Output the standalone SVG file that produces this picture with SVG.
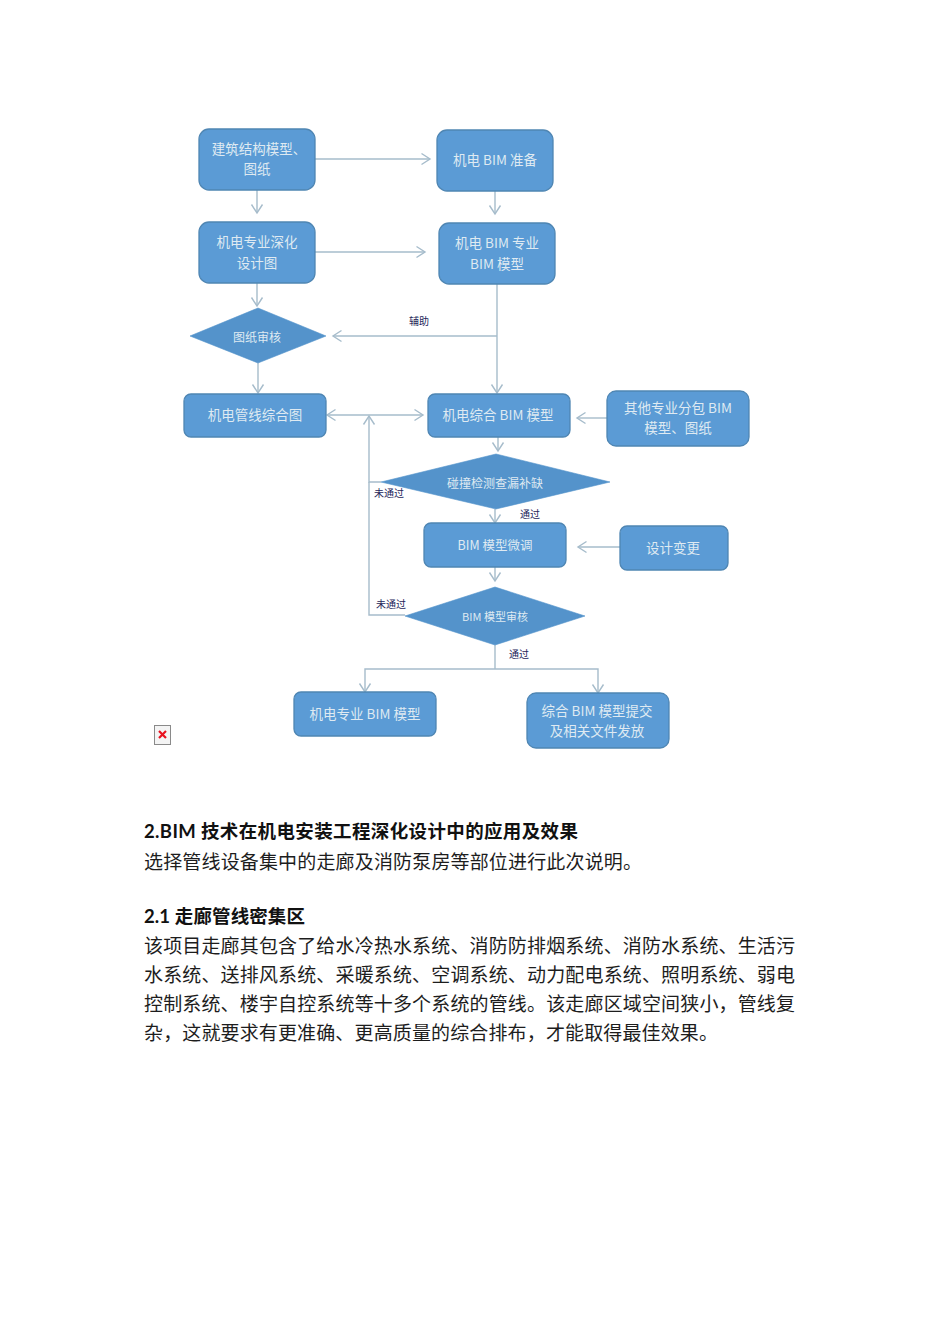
<svg xmlns="http://www.w3.org/2000/svg" width="950" height="1344" viewBox="0 0 950 1344">
<style>
.n{fill:#5b9bd5;stroke:#4f86b3;stroke-width:1.300}
.d{fill:#5493cb;stroke:#5493cb;stroke-width:.6;stroke-linejoin:round}
.t{font-family:"Noto Sans CJK SC","Noto Sans",sans-serif;fill:#dfeaf2;text-anchor:middle;font-size:13.500px}
.s{font-size:12px}
.l{font-family:"Noto Sans CJK SC",sans-serif;fill:#25255a;text-anchor:middle;font-size:10px}
.c path{fill:none;stroke:#a6bccb;stroke-width:1.400}
.b{font-family:"Noto Sans CJK SC",sans-serif;fill:#1d1d1d;font-size:19px}
.h{font-family:Lato,"Noto Sans CJK SC",sans-serif;font-weight:700;fill:#111;font-size:18.500px}
</style>
<defs>
<marker id="a" markerUnits="userSpaceOnUse" markerWidth="14" markerHeight="14" refX="10" refY="7" orient="auto-start-reverse"><path d="M1.500 1.500L10 7L1.500 12.500" fill="none" stroke="#a6bccb" stroke-width="1.400"/></marker>
</defs>
<rect width="950" height="1344" fill="#fff"/>
<g class="c" id="connectors">
<path d="M315 159H430" marker-end="url(#a)"/>
<path d="M257 190V213" marker-end="url(#a)"/>
<path d="M495 191V214" marker-end="url(#a)"/>
<path d="M315 252H425" marker-end="url(#a)"/>
<path d="M257 283V306" marker-end="url(#a)"/>
<path d="M497 284V393" marker-end="url(#a)"/>
<path d="M497 336H333" marker-end="url(#a)"/>
<path d="M258 363V393" marker-end="url(#a)"/>
<path d="M327 415H423" marker-start="url(#a)" marker-end="url(#a)"/>
<path d="M381 482H369V416" marker-end="url(#a)"/>
<path d="M405 615H369V482"/>
<path d="M498 437V451" marker-end="url(#a)"/>
<path d="M607 418H577" marker-end="url(#a)"/>
<path d="M495 509V523" marker-end="url(#a)"/>
<path d="M620 547H578" marker-end="url(#a)"/>
<path d="M495 567V581" marker-end="url(#a)"/>
<path d="M495 645V669"/>
<path d="M495 669H365V692" marker-end="url(#a)"/>
<path d="M495 669H598V693" marker-end="url(#a)"/>
</g>
<g id="n1"><rect class="n" x="199" y="129" width="116" height="61" rx="10"/><text class="t" x="259" y="154">建筑结构模型、</text><text class="t" x="257" y="174">图纸</text></g>
<g id="n2"><rect class="n" x="437" y="130" width="116" height="61" rx="10"/><text class="t" x="495" y="165">机电 BIM 准备</text></g>
<g id="n3"><rect class="n" x="199" y="222" width="116" height="61" rx="10"/><text class="t" x="257" y="247">机电专业深化</text><text class="t" x="257" y="268">设计图</text></g>
<g id="n4"><rect class="n" x="439" y="223" width="116" height="61" rx="10"/><text class="t" x="497" y="248">机电 BIM 专业</text><text class="t" x="497" y="269">BIM 模型</text></g>
<g id="n5"><path class="d" d="M190 336L258 308L326 336L258 363Z"/><text class="t s" x="257" y="342">图纸审核</text></g>
<g id="n6"><rect class="n" x="184" y="394" width="142" height="43" rx="7"/><text class="t" x="255" y="420">机电管线综合图</text></g>
<g id="n7"><rect class="n" x="428" y="394" width="142" height="43" rx="7"/><text class="t" x="498" y="420">机电综合 BIM 模型</text></g>
<g id="n8"><rect class="n" x="607" y="391" width="142" height="55" rx="9"/><text class="t" x="678" y="413">其他专业分包 BIM</text><text class="t" x="678" y="433">模型、图纸</text></g>
<g id="n9"><path class="d" d="M381 482L496 454L610 482L496 509Z"/><text class="t s" x="495" y="488">碰撞检测查漏补缺</text></g>
<g id="n10"><rect class="n" x="424" y="523" width="142" height="44" rx="7"/><text class="t" style="font-size:12.500px" x="495" y="550">BIM 模型微调</text></g>
<g id="n11"><rect class="n" x="620" y="526" width="108" height="44" rx="7"/><text class="t" x="673" y="553">设计变更</text></g>
<g id="n12"><path class="d" d="M405 616L495 587L585 616L495 645Z"/><text class="t" style="font-size:11px" x="495" y="621">BIM 模型审核</text></g>
<g id="n13"><rect class="n" x="294" y="692" width="142" height="44" rx="7"/><text class="t" x="365" y="719">机电专业 BIM 模型</text></g>
<g id="n14"><rect class="n" x="527" y="693" width="142" height="55" rx="9"/><text class="t" x="597" y="716">综合 BIM 模型提交</text><text class="t" x="597" y="736">及相关文件发放</text></g>
<g id="labels">
<text class="l" x="419" y="325">辅助</text>
<text class="l" x="389" y="497">未通过</text>
<text class="l" x="530" y="518">通过</text>
<text class="l" x="391" y="608">未通过</text>
<text class="l" x="519" y="658">通过</text>
</g>
<g id="broken-image">
<rect x="154.500" y="725.500" width="16" height="19" fill="#f4f4f4" stroke="#8a8a8a"/>
<path d="M159 731L166 738M166 731L159 738" stroke="#e8121f" stroke-width="2.200" fill="none"/>
</g>
<g id="article">
<text class="h" x="144" y="838" textLength="434">2.BIM 技术在机电安装工程深化设计中的应用及效果</text>
<text class="b" x="144" y="869" textLength="498">选择管线设备集中的走廊及消防泵房等部位进行此次说明。</text>
<text class="h" x="144" y="923" textLength="161">2.1 走廊管线密集区</text>
<text class="b" x="144" y="953" textLength="651">该项目走廊其包含了给水冷热水系统、消防防排烟系统、消防水系统、生活污</text>
<text class="b" x="144" y="982" textLength="651">水系统、送排风系统、采暖系统、空调系统、动力配电系统、照明系统、弱电</text>
<text class="b" x="144" y="1011" textLength="651">控制系统、楼宇自控系统等十多个系统的管线。该走廊区域空间狭小，管线复</text>
<text class="b" x="144" y="1040" textLength="574">杂，这就要求有更准确、更高质量的综合排布，才能取得最佳效果。</text>
</g>
</svg>
